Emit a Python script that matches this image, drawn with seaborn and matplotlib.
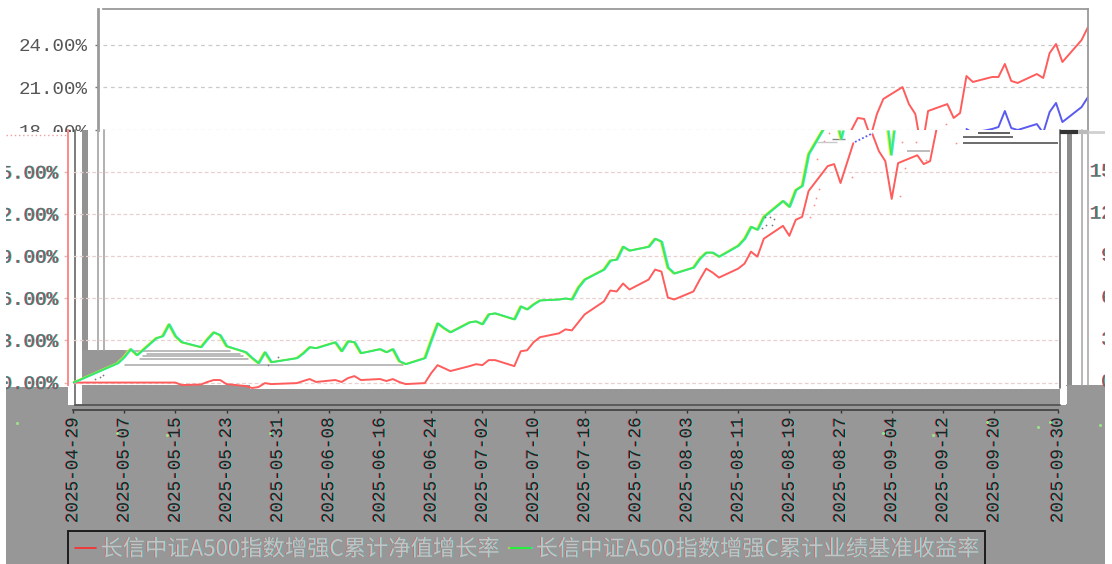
import numpy as np
import pandas as pd
import matplotlib
matplotlib.use("Agg")
import matplotlib.pyplot as plt
import matplotlib.patheffects as pe
from matplotlib.patches import Rectangle, Polygon
import seaborn as sns

sns.set_theme(style="white")
plt.rcParams['font.family'] = ['Noto Sans CJK SC', 'DejaVu Sans']

NAME_NAV = "长信中证A500指数增强C累计净值增长率"
NAME_BENCH = "长信中证A500指数增强C累计业绩基准收益率"

lower_red_dates = ["2025-04-29","2025-04-30","2025-05-06","2025-05-07","2025-05-08","2025-05-09","2025-05-12","2025-05-13","2025-05-14","2025-05-15","2025-05-16","2025-05-19","2025-05-20","2025-05-21","2025-05-22","2025-05-23","2025-05-26","2025-05-27","2025-05-28","2025-05-29","2025-05-30","2025-06-03","2025-06-04","2025-06-05","2025-06-06","2025-06-09","2025-06-10","2025-06-11","2025-06-12","2025-06-13","2025-06-16","2025-06-17","2025-06-18","2025-06-19","2025-06-20","2025-06-23","2025-06-24","2025-06-25","2025-06-26","2025-06-27","2025-06-30","2025-07-01","2025-07-02","2025-07-03","2025-07-04","2025-07-07","2025-07-08","2025-07-09","2025-07-10","2025-07-11","2025-07-14","2025-07-15","2025-07-16","2025-07-17","2025-07-18","2025-07-21","2025-07-22","2025-07-23","2025-07-24","2025-07-25","2025-07-28","2025-07-29","2025-07-30","2025-07-31","2025-08-01","2025-08-04","2025-08-05","2025-08-06","2025-08-07","2025-08-08","2025-08-11","2025-08-12","2025-08-13","2025-08-14","2025-08-15","2025-08-18","2025-08-19","2025-08-20","2025-08-21","2025-08-22","2025-08-25","2025-08-26","2025-08-27","2025-08-28","2025-08-29"]
lower_red_values = [0.0,0.0,0.0,0.0,0.0,0.0,0.0,0.0,0.0,0.0,-0.18,-0.14,0.04,0.18,0.18,-0.11,-0.25,-0.39,-0.32,-0.04,-0.11,-0.04,0.11,0.25,0.04,0.18,0.04,0.32,0.46,0.18,0.25,0.11,0.25,0.04,-0.11,-0.04,0.67,1.24,1.03,0.82,1.17,1.31,1.24,1.60,1.60,1.17,2.23,2.30,2.87,3.23,3.51,3.79,3.72,4.29,4.86,5.78,6.56,6.49,7.06,6.63,7.34,8.05,7.91,6.06,5.92,6.49,7.34,8.12,7.84,7.48,8.12,8.48,9.33,8.97,10.25,11.17,10.46,11.60,11.81,13.65,15.43,15.57,14.22,15.64,17.06]

late_red_dates = ["2025-09-01","2025-09-02","2025-09-03","2025-09-04","2025-09-05","2025-09-08","2025-09-09","2025-09-10","2025-09-11"]
late_red_values = [17.69,16.49,15.78,13.09,15.64,16.20,15.57,15.78,18.05]

lower_green_dates = lower_red_dates[:81]
lower_green_values = [0.0,0.18,1.38,1.81,2.38,1.95,3.16,3.30,4.15,3.30,2.87,2.52,3.09,3.58,3.37,2.59,2.16,1.74,1.38,2.16,1.45,1.74,2.09,2.52,2.45,2.87,2.23,2.94,2.87,2.09,2.38,2.16,2.38,1.52,1.31,1.74,3.01,4.22,3.87,3.58,4.29,4.36,4.15,4.86,4.93,4.50,5.43,5.21,5.57,5.85,5.92,5.99,5.92,6.77,7.34,8.05,8.69,8.76,9.68,9.40,9.68,10.25,10.04,8.19,7.77,8.19,8.83,9.26,9.26,8.97,9.75,10.25,11.10,10.89,11.81,12.94,12.52,13.72,14.01,16.28,18.6]

upper_red_dates = ["2025-08-22","2025-08-25","2025-08-26","2025-08-27","2025-08-28","2025-08-29","2025-09-01","2025-09-02","2025-09-03","2025-09-04","2025-09-05","2025-09-08","2025-09-09","2025-09-10","2025-09-11","2025-09-12","2025-09-15","2025-09-16","2025-09-17","2025-09-18","2025-09-19","2025-09-22","2025-09-23","2025-09-24","2025-09-25","2025-09-26","2025-09-29","2025-09-30"]
upper_red_values = [16.24,18.85,18.78,17.51,19.13,20.19,21.03,19.83,19.13,16.59,19.34,19.83,18.85,19.20,21.81,21.39,21.74,21.74,22.66,21.46,21.32,21.95,21.67,23.43,24.07,22.80,24.35,25.27]
upper_blue_dates = upper_red_dates[14:]
upper_blue_values = [18.07,17.79,18.07,18.21,19.34,18.14,18.0,18.42,17.79,19.27,19.91,18.56,19.62,20.33]

upper_ticks = [18, 21, 24]
lower_ticks = [0, 3, 6, 9, 12, 15]
date_ticks = ["2025-04-29","2025-05-07","2025-05-15","2025-05-23","2025-05-31","2025-06-08","2025-06-16","2025-06-24","2025-07-02","2025-07-10","2025-07-18","2025-07-26","2025-08-03","2025-08-11","2025-08-19","2025-08-27","2025-09-04","2025-09-12","2025-09-20","2025-09-30"]

W, H = 1112, 564
GREY = "#979797"
RED = "#ff5c5c"
GREEN = "#3fe85a"
BLUE = "#5a5af0"
MONO = "Liberation Mono"

fig = plt.figure(figsize=(W/100, H/100), dpi=100, facecolor="white")

def axpx(l, t, r, b, z):
    a = fig.add_axes([l/W, 1-b/H, (r-l)/W, (b-t)/H])
    a.set_zorder(z)
    a.patch.set_alpha(0)
    return a

def canvas(z):
    a = fig.add_axes([0, 0, 1, 1])
    a.set_xlim(0, W); a.set_ylim(H, 0)
    a.axis("off"); a.set_zorder(z); a.patch.set_alpha(0)
    return a

def fringe(d=0.5, a=0.85):
    return [pe.SimplePatchShadow(offset=(-d, 0), shadow_rgbFace="#ff2a2a", alpha=a),
            pe.SimplePatchShadow(offset=(d, 0), shadow_rgbFace="#10e0e0", alpha=a),
            pe.Normal()]

LINE_FRINGE = [pe.Stroke(linewidth=1.2, foreground="#f2f040", offset=(-0.7, 0)),
               pe.Stroke(linewidth=1.2, foreground="#30f0f0", offset=(0.7, 0)),
               pe.Normal()]

x0, x1 = pd.Timestamp("2025-04-29"), pd.Timestamp("2025-09-30")

def frame(pairs):
    out = []
    for name, seg, d, v in pairs:
        out.append(pd.DataFrame({"date": pd.to_datetime(d), "value": v, "series": name, "seg": seg}))
    return pd.concat(out, ignore_index=True)

# ---------- upper part of the chart
up = axpx(103, 9, 1088, 130, 1)
up.spines["left"].set_position(("outward", 3.6))
up_df = frame([(NAME_NAV, 0, upper_red_dates, upper_red_values),
               (NAME_BENCH, 1, upper_blue_dates, upper_blue_values)])
sns.lineplot(data=up_df, x="date", y="value", hue="series", palette=[RED, BLUE],
             estimator=None, linewidth=1.4, legend=False, ax=up)
up.set_xlim(x0, x1); up.set_ylim(18, 26.54)
up.set_xlabel(""); up.set_ylabel("")
up.set_xticks([])
up.set_yticks(upper_ticks)
up.set_yticklabels([f"{t}.00%" for t in upper_ticks], fontfamily=MONO, fontsize=13.8, color="#555555")
up.tick_params(axis="y", length=2.2, width=1, color="#777777", pad=5.5, left=True)
up.grid(axis="y", color="#c9c9c9", linestyle=(0, (3, 3)), linewidth=0.9)
for s in ["top", "right"]:
    up.spines[s].set_color("#9a9a9a"); up.spines[s].set_linewidth(1.3)
up.spines["bottom"].set_visible(False)
up.spines["left"].set_color("#9a9a9a"); up.spines["left"].set_linewidth(2)

# ---------- backdrop for the lower part
bg = canvas(2)
bg.add_patch(Rectangle((0, 132), 1105, 260, color="white", lw=0))
bg.add_patch(Rectangle((6, 387), 62, H-387, color=GREY, lw=0))
bg.add_patch(Rectangle((82, 385), 168, 25, color=GREY, lw=0))
bg.add_patch(Rectangle((250, 389), 810, 21, color=GREY, lw=0))
bg.add_patch(Rectangle((1066, 385), 39, 30, color=GREY, lw=0))
bg.add_patch(Rectangle((68, 405), 1037, H-405, color=GREY, lw=0))
bg.add_patch(Polygon([(82, 350), (128, 350), (119, 363), (82, 379)], color=GREY, lw=0))
bg.add_patch(Rectangle((82, 130), 6, 220, color="#929292", lw=0))
bg.add_patch(Rectangle((1067, 130), 5, 255, color="#8c8c8c", lw=0))
for x, c, w in [(98, "#aaaaaa", 1.3), (104, "#aaaaaa", 1.3), (1082, "#aaaaaa", 1.2), (1088, "#aaaaaa", 1.2)]:
    bg.plot([x, x], [130, 350 if x < 200 else 385], color=c, lw=w)
bg.plot([75, 75], [130, 405], color="#666666", lw=1.2)
bg.plot([1060, 1060], [130, 388], color="#707070", lw=1.3)
bg.plot([75, 1060], [405, 405], color="#555555", lw=1.3)
for y, a, b in [(351, 125, 230), (353.5, 147, 240), (356, 143, 243), (358.5, 140, 248), (365, 125, 403)]:
    bg.plot([a, b], [y, y], color="#a8a8a8", lw=1.1)

# ---------- lower part of the chart
lo = axpx(73, 130, 1058, 405, 3)
lo.spines["bottom"].set_position(("outward", 3.6))
lo.spines["left"].set_position(("outward", 3.6))
lo_df = frame([(NAME_NAV, 0, lower_red_dates, lower_red_values),
               (NAME_NAV, 1, late_red_dates, late_red_values),
               (NAME_BENCH, 2, lower_green_dates, lower_green_values)])
sns.lineplot(data=lo_df, x="date", y="value", hue="series", units="seg", palette=[RED, GREEN],
             estimator=None, linewidth=1.4, ax=lo)
lo.set_xlim(x0, x1); lo.set_ylim(-1.6, 18)
lo.set_xlabel(""); lo.set_ylabel("")
lo.set_yticks(lower_ticks)
lo.set_yticklabels([f"{t}.00%" for t in lower_ticks], fontfamily=MONO, fontsize=13.8, color="#6a6a6a",
                   path_effects=fringe())
lo.tick_params(axis="y", length=3, width=1, color="#e0b8b8", pad=4, left=True)
lo.grid(axis="y", color="#e8d0d0", linestyle=(0, (3, 2)), linewidth=0.9)
dt = pd.to_datetime(date_ticks)
lo.set_xticks(dt)
lo.set_xticklabels(date_ticks, rotation=90, fontfamily=MONO, fontsize=12.7, color="#222222",
                   path_effects=fringe(0.6))
lo.tick_params(axis="x", length=2.5, width=1, color="#333333", pad=2.5, bottom=True)
for s in ["top", "right"]:
    lo.spines[s].set_visible(False)
lo.spines["bottom"].set_color("#444444"); lo.spines["bottom"].set_linewidth(1.3)
lo.spines["left"].set_color("#ff8080"); lo.spines["left"].set_linewidth(1.3)
lo.spines["left"].set_bounds(-0.2, 18)
for line in lo.get_lines():
    if matplotlib.colors.same_color(line.get_color(), GREEN):
        line.set_path_effects(LINE_FRINGE)

leg = lo.legend(loc="upper left", bbox_to_anchor=(68/W, 1-531/H), bbox_transform=fig.transFigure, ncol=2,
                frameon=True, fancybox=False, facecolor=GREY, edgecolor="#1c1c1c", framealpha=1,
                borderaxespad=0, fontsize=16.05, handlelength=0.95, handletextpad=0.2,
                columnspacing=0.5, borderpad=0.3, labelcolor="#c4c4c4")
leg.get_frame().set_linewidth(1.4)
for t in leg.get_texts():
    t.set_path_effects(fringe(0.4, 0.6))
for h, c in zip(leg.get_lines(), ["#ff2a2a", "#20f020"]):
    h.set_color(c); h.set_linewidth(1.2)

# ---------- glitch strokes and specks above everything
top = canvas(4)
for y, a, b, c, w in [(132.5, 978, 1010, "#333333", 1.1), (137, 963, 1013, "#444444", 1.1), (143, 963, 1058, "#444444", 1.1),
                      (151, 907, 930, "#aaaaaa", 1.1), (142, 817, 837, "#c8c8c8", 1.0), (139, 832, 845, "#888888", 1.0),
                      (131.5, 1060, 1078, "#333333", 3), (131.5, 1078, 1088, "#bbbbbb", 3), (131.5, 1088, 1105, "#d0d0d0", 2)]:
    top.plot([a, b], [y, y], color=c, lw=w, solid_capstyle="butt")
top.plot([855, 873], [142, 133], color=BLUE, lw=1.3, linestyle=(0, (1, 1.2)))
for xs, ys in [([839, 841, 843], [131, 139, 131]), ([888, 891, 894], [131, 155, 131])]:
    top.plot(xs, ys, color=GREEN, lw=1.0, path_effects=LINE_FRINGE)
top.plot([6, 68], [134.5, 134.5], color="#e8a0a0", lw=1, linestyle=(0, (1, 2)))
top.scatter([810, 814, 816, 819, 817, 824, 829, 852, 902, 916, 905, 900, 926, 956, 946],
            [217, 205, 198, 189, 159, 141, 133, 177, 142, 142, 168, 196, 160, 143, 124],
            s=1.6, color="#ff8888", lw=0)
top.scatter([765, 770, 774, 766, 772, 762, 95, 100, 103, 278, 268],
            [217, 217, 219, 225, 225, 228, 379, 377, 375, 357, 365], s=1.6, color="#777777", lw=0)
top.scatter([17, 117, 167, 270, 883, 933, 987, 1038, 1050, 1100],
            [423, 433, 435, 433, 433, 435, 422, 427, 422, 425], s=5, color="#9be08a", lw=0)
# the part of the left labels that comes round on the right
for t in lower_ticks[::-1]:
    y = 382.5 - t*14.03
    top.text(1159, y, f"{t}.00%", ha="right", va="center", fontfamily=MONO, fontsize=13.8,
             color="#6a6a6a", path_effects=fringe(), clip_on=False)
top.add_patch(Rectangle((0, 131), 6, H-131, color="white", lw=0, zorder=10))
top.add_patch(Rectangle((1105, 0), 7, H, color="white", lw=0, zorder=10))
top.add_patch(Rectangle((68.7, 388), 5.5, 17, color="white", lw=0, zorder=3))
top.add_patch(Rectangle((1061, 386), 5.5, 18, color="white", lw=0, zorder=3))

fig.savefig("out.png", dpi=100)
